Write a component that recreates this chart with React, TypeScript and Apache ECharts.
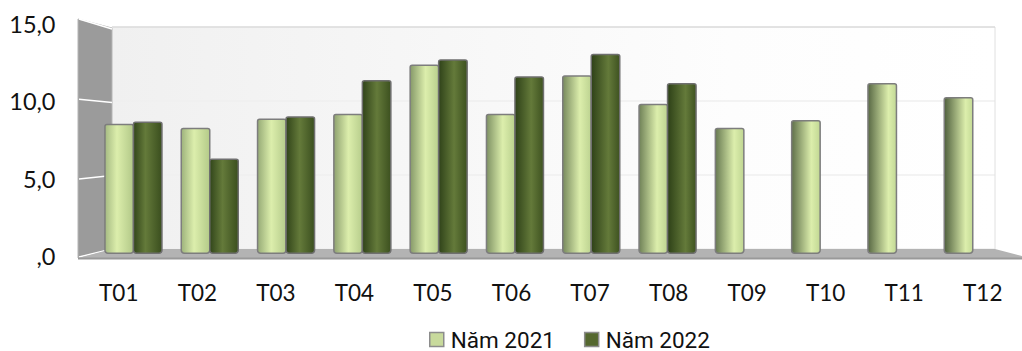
import React, { useEffect, useRef } from "react";
import * as echarts from "echarts";

const months = ["T01", "T02", "T03", "T04", "T05", "T06", "T07", "T08", "T09", "T10", "T11", "T12"];
const y2021 = [8.45, 8.2, 8.8, 9.1, 12.3, 9.1, 11.6, 9.75, 8.2, 8.7, 11.1, 10.2];
const y2022 = [8.6, 6.2, 8.95, 11.3, 12.65, 11.55, 13.0, 11.1, null, null, null, null];
const axisFont = "Lato, Carlito, sans-serif";
const legendFont = "Roboto, sans-serif";

type RGB = [number, number, number];
const mix = (a: RGB, b: RGB, t: number) =>
  `rgb(${a.map((v, i) => Math.round(v + (b[i] - v) * t)).join(",")})`;

// Cylinder shading: the highlight drifts to the right and the left edge darkens across the axis.
function cylinder(
  index: number,
  leftA: RGB,
  leftB: RGB,
  middle: RGB,
  rightA: RGB,
  rightB: RGB
) {
  const t = index / (months.length - 1);
  const peak = 0.42 + 0.33 * t;
  return new echarts.graphic.LinearGradient(0, 0, 1, 0, [
    { offset: 0, color: mix(leftA, leftB, t) },
    { offset: peak, color: mix(middle, middle, t) },
    { offset: 1, color: mix(rightA, rightB, t) },
  ]);
}

export default function App() {
  const ref = useRef<HTMLDivElement>(null);

  useEffect(() => {
    const chart = echarts.init(ref.current!, undefined, { renderer: "svg" });
    const sideLines = [
      [19, 29],
      [99.3, 102.5],
      [179, 175.5],
      [257, 249],
    ];
    chart.setOption({
      animation: false,
      backgroundColor: "#ffffff",
      legend: {
        left: 429,
        top: 328,
        itemWidth: 14,
        itemHeight: 14,
        itemGap: 29,
        padding: 0,
        textStyle: {
          fontFamily: legendFont,
          fontSize: 22.5,
          lineHeight: 18,
          color: "#111",
          padding: [0, 0, 0, 2],
        },
        data: [
          { name: "Năm 2021", icon: "rect", itemStyle: { color: "#c8da9c", borderColor: "#8c8c8c", borderWidth: 1.5 } },
          { name: "Năm 2022", icon: "rect", itemStyle: { color: "#55682f", borderColor: "#8c8c8c", borderWidth: 1.5 } },
        ],
      },
      graphic: {
        elements: [
          {
            type: "rect",
            z: 0,
            shape: { x: 112, y: 27, width: 883, height: 222 },
            style: {
              fill: new echarts.graphic.LinearGradient(0, 0, 1, 0, [
                { offset: 0, color: "#f0f0f0" },
                { offset: 0.7, color: "#fdfdfd" },
                { offset: 1, color: "#ffffff" },
              ]),
            },
          },
          {
            type: "polygon",
            z: 1,
            shape: { points: [[78, 19], [112, 28], [112, 249], [78, 258]] },
            style: { fill: "#9b9b9b", stroke: "#b5b5b5", lineWidth: 1 },
          },
          ...sideLines.map(([a, b]) => ({
            type: "line",
            z: 1,
            shape: { x1: 79, y1: a, x2: 112, y2: b },
            style: { stroke: "#ffffff", lineWidth: 1.5 },
          })),
          {
            type: "polygon",
            z: 1,
            shape: { points: [[78, 258], [112, 249], [995, 249], [1022, 256], [1022, 259], [78, 259]] },
            style: { fill: "#b3b3b3" },
          },
          {
            type: "rect",
            z: 1,
            shape: { x: 78, y: 257.5, width: 944, height: 2 },
            style: { fill: "#999999" },
          },
          {
            type: "line",
            z: 1,
            shape: { x1: 995, y1: 27, x2: 995, y2: 249 },
            style: { stroke: "#e0e0e0", lineWidth: 1 },
          },
          {
            type: "line",
            z: 1,
            shape: { x1: 112, y1: 27, x2: 995, y2: 27 },
            style: { stroke: "#d2d2d2", lineWidth: 1 },
          },
        ],
      },
      grid: [
        // back wall with its gridlines
        { left: 112, top: 27, width: 883, height: 222 },
        // plane the bars stand on
        { left: 95.3, top: 23, width: 915.6, height: 231 },
        // front edge that carries the tick labels
        { left: 79.5, top: 23.5, width: 948, height: 232.5 },
      ],
      xAxis: [
        { gridIndex: 0, type: "category", data: months, show: false },
        { gridIndex: 1, type: "category", data: months, show: false },
        {
          gridIndex: 2,
          type: "category",
          data: months,
          axisLine: { show: false },
          axisTick: { show: false },
          axisLabel: { margin: 25, fontFamily: axisFont, fontSize: 22.5, color: "#111", interval: 0 },
        },
      ],
      yAxis: [
        {
          gridIndex: 0,
          type: "value",
          min: 0,
          max: 15,
          interval: 5,
          axisLine: { show: false },
          axisTick: { show: false },
          axisLabel: { show: false },
          splitLine: { lineStyle: { color: "#efefef", width: 1.5 } },
        },
        { gridIndex: 1, type: "value", min: 0, max: 15, interval: 5, show: false, splitLine: { show: false } },
        {
          gridIndex: 2,
          type: "value",
          min: 0,
          max: 15,
          interval: 5,
          axisLine: { show: false },
          axisTick: { show: false },
          splitLine: { show: false },
          axisLabel: {
            margin: 24,
            fontFamily: axisFont,
            fontSize: 23.5,
            color: "#111",
            formatter: (v: number) => (v === 0 ? ",0" : v.toFixed(1).replace(".", ",")),
          },
        },
      ],
      series: [
        {
          name: "Năm 2021",
          type: "bar",
          xAxisIndex: 1,
          yAxisIndex: 1,
          barWidth: 30,
          barGap: "-5%",
          z: 3,
          data: y2021,
          itemStyle: {
            borderColor: "#7d7d7d",
            borderWidth: 1.5,
            borderRadius: [2, 2, 3, 3],
            color: (p: any) =>
              cylinder(p.dataIndex, [165, 186, 130], [80, 96, 62], [220, 238, 172], [178, 200, 136], [196, 218, 150]),
          },
        },
        {
          name: "Năm 2022",
          type: "bar",
          xAxisIndex: 1,
          yAxisIndex: 1,
          barWidth: 30,
          z: 4,
          data: y2022,
          itemStyle: {
            borderColor: "#6f6f6f",
            borderWidth: 1.5,
            borderRadius: [2, 2, 3, 3],
            color: (p: any) =>
              cylinder(p.dataIndex, [50, 70, 26], [42, 60, 22], [100, 122, 58], [58, 78, 30], [66, 86, 34]),
          },
        },
      ],
    });
    return () => chart.dispose();
  }, []);

  return <div ref={ref} style={{ position: "fixed", left: 0, top: 0, width: 1022, height: 351 }} />;
}
